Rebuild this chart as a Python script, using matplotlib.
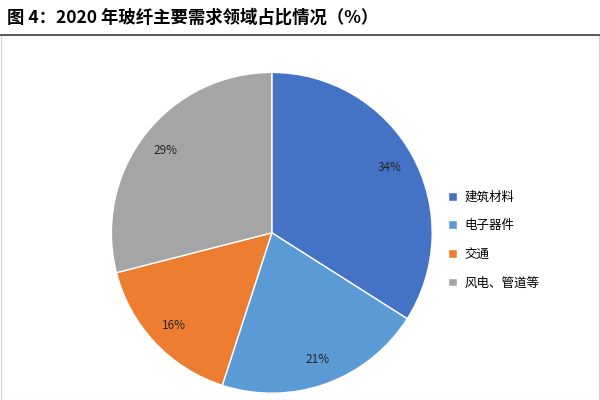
import matplotlib.pyplot as plt
from matplotlib.patches import Rectangle

plt.rcParams['font.family'] = ['Noto Sans CJK SC', 'DejaVu Sans']

labels = ["建筑材料", "电子器件", "交通", "风电、管道等"]
shares = [34, 21, 16, 29]
colors = ["#4472C4", "#5B9BD5", "#ED7D31", "#A5A5A5"]

fig = plt.figure(figsize=(6, 4), dpi=100)
fig.patch.set_facecolor("white")

fig.text(0.012, 0.955, "图 4：2020 年玻纤主要需求领域占比情况（%）",
         fontsize=12.5, fontweight="bold", va="center", ha="left")
fig.add_artist(plt.Line2D([0, 1], [0.912, 0.912], color="#404040", lw=1.2))
fig.add_artist(Rectangle((0.002, 0.0), 0.996, 0.912, fill=False,
                         edgecolor="#d0d0d0", lw=0.8))

ax = fig.add_axes([0.183, 0.013, 0.54, 0.81])
wedges, _, autotexts = ax.pie(shares, colors=colors, startangle=90, counterclock=False,
                              autopct="%d%%", pctdistance=0.84,
                              wedgeprops=dict(edgecolor="white", linewidth=1),
                              textprops=dict(fontsize=8.5, color="#262626"))
ax.set_xlim(-1.01, 1.01)
ax.set_ylim(-1.01, 1.01)
ax.set_aspect("equal")

fig.legend(wedges, labels, loc="center left", bbox_to_anchor=(0.728, 0.4),
           frameon=False, fontsize=9, handlelength=0.7, handleheight=0.7,
           labelspacing=1.25, handletextpad=0.6)

fig.savefig("out.png", dpi=100, facecolor="white")
